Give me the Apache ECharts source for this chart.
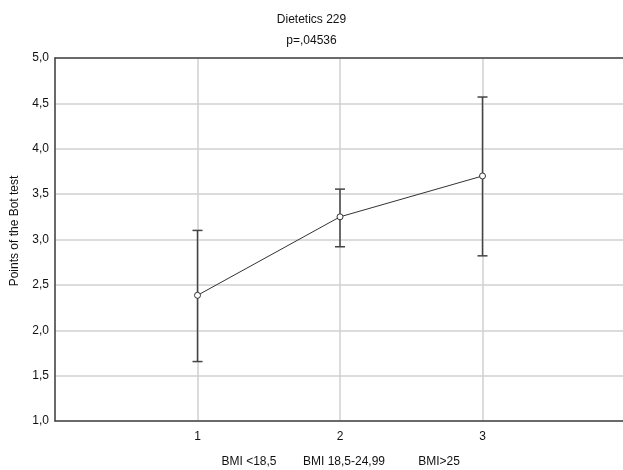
<!DOCTYPE html>
<html><head><meta charset="utf-8">
<script src="https://cdn.jsdelivr.net/npm/echarts@6/dist/echarts.min.js"></script>
<style>html,body{margin:0;padding:0;background:#fff}#c{width:623px;height:470px}</style>
</head><body><div id="c"></div>
<script>
const xPositions = [1, 2, 3];
const means = [2.385, 3.25, 3.70];
const lower = [1.655, 2.92, 2.82];
const upper = [3.10, 3.555, 4.57];
const groupLabels = ['BMI <18,5', 'BMI 18,5-24,99', 'BMI>25'];
const groupLabelX = [249, 344, 439];
const titleText = 'Dietetics 229';
const subtitleText = 'p=,04536';
const yName = 'Points of the Bot test';

const font = 'Liberation Sans, Arial, sans-serif';
const chart = echarts.init(document.getElementById('c'));
const errData = xPositions.map((x, i) => [x, lower[i], upper[i]]);
const lineData = xPositions.map((x, i) => [x, means[i]]);

chart.setOption({
  animation: false,
  backgroundColor: '#fff',
  title: {
    text: titleText, subtext: subtitleText, left: 'center', top: 9, itemGap: 9,
    textStyle: {fontFamily: font, fontSize: 12, fontWeight: 'normal', color: '#111'},
    subtextStyle: {fontFamily: font, fontSize: 12, color: '#111'}
  },
  grid: {left: 55, right: -2, top: 58, bottom: 49, outerBoundsMode: 'none', containLabel: false},
  xAxis: [{
    type: 'value', min: 0, max: 4, interval: 1,
    axisLine: {lineStyle: {color: '#444', width: 1.5}},
    axisTick: {show: false},
    axisLabel: {fontFamily: font, fontSize: 12, color: '#111', margin: 10,
      formatter: v => (v >= 1 && v <= 3) ? String(v) : ''},
    splitLine: {show: true, lineStyle: {color: '#d0d0d0', width: 1.5}}
  }, {
    type: 'value', min: 0, max: 4, position: 'top',
    axisLine: {show: true, onZero: false, lineStyle: {color: '#444', width: 1.5}},
    axisTick: {show: false}, axisLabel: {show: false}, splitLine: {show: false}
  }],
  yAxis: {
    type: 'value', min: 1, max: 5, interval: 0.5,
    axisLine: {show: true, lineStyle: {color: '#444', width: 1.5}},
    axisTick: {show: false},
    axisLabel: {fontFamily: font, fontSize: 12, color: '#111', margin: 6,
      formatter: v => v.toFixed(1).replace('.', ',')},
    splitLine: {show: true, lineStyle: {color: '#d0d0d0', width: 1.5}}
  },
  graphic: [
    {type: 'text', x: 15, y: 231, rotation: Math.PI / 2,
      style: {text: yName, font: '12px ' + font, fill: '#111', textAlign: 'center', textVerticalAlign: 'middle'}}
  ].concat(groupLabels.map((t, i) => ({
    type: 'text', x: groupLabelX[i], y: 462,
    style: {text: t, font: '12px ' + font, fill: '#111', textAlign: 'center', textVerticalAlign: 'middle'}
  }))),
  series: [{
    type: 'custom',
    data: errData,
    renderItem: (params, api) => {
      const x = api.value(0);
      const lo = api.coord([x, api.value(1)]);
      const hi = api.coord([x, api.value(2)]);
      const hw = 5;
      const st = {stroke: '#444', lineWidth: 1.5};
      return {type: 'group', children: [
        {type: 'line', shape: {x1: lo[0], y1: lo[1], x2: hi[0], y2: hi[1]}, style: st},
        {type: 'line', shape: {x1: lo[0] - hw, y1: lo[1], x2: lo[0] + hw, y2: lo[1]}, style: st},
        {type: 'line', shape: {x1: hi[0] - hw, y1: hi[1], x2: hi[0] + hw, y2: hi[1]}, style: st}
      ]};
    },
    z: 3
  }, {
    type: 'line',
    data: lineData,
    symbol: 'circle', symbolSize: 6, showSymbol: true,
    lineStyle: {color: '#333', width: 1},
    itemStyle: {color: '#fff', borderColor: '#333', borderWidth: 1},
    z: 4
  }]
});
</script></body></html>
